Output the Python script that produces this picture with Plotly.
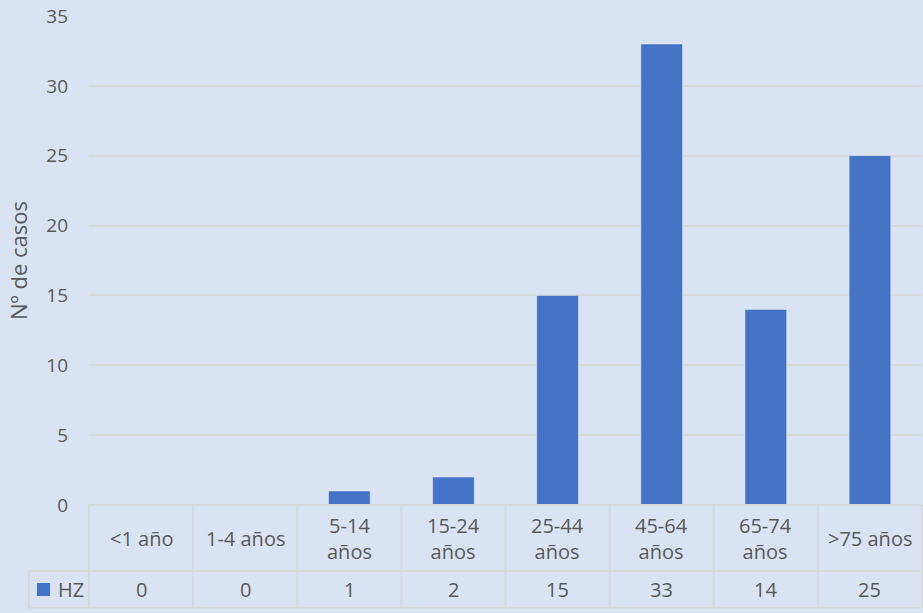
import plotly.graph_objects as go

categories = ["<1 año", "1-4 años", "5-14 años", "15-24 años", "25-44 años", "45-64 años", "65-74 años", ">75 años"]
category_labels = ["<1 año", "1-4 años", "5-14<br>años", "15-24<br>años", "25-44<br>años", "45-64<br>años", "65-74<br>años", ">75 años"]
series_name = "HZ"
hz_values = [0, 0, 1, 2, 15, 33, 14, 25]
y_ticks = [0, 5, 10, 15, 20, 25, 30, 35]

BG = "#DAE3F3"
BAR = "#4472C4"
GRID = "#D6D9DE"
TXT = "#595959"
FONT = "Open Sans"
FS = 20

W, H = 923, 613
ML, MR, MT, MB = 89, 1, 16, 108
plot_h = H - MT - MB
plot_w = W - ML - MR
n = len(categories)

def py(px):
    # pixel y (from top) -> paper y
    return (H - MB - px) / plot_h

row1_bottom = py(571)
row2_bottom = py(608)
key_left = -60 / plot_w

fig = go.Figure()
fig.add_trace(go.Bar(x=list(range(n)), y=hz_values, marker_color=BAR, name=series_name,
                     showlegend=False))

shapes = []
line = dict(color=GRID, width=2)
shapes.append(dict(type="line", xref="paper", yref="paper", x0=0, x1=1, y0=0, y1=0, line=line))
shapes.append(dict(type="line", xref="paper", yref="paper", x0=key_left, x1=1, y0=row1_bottom, y1=row1_bottom, line=line))
shapes.append(dict(type="line", xref="paper", yref="paper", x0=key_left, x1=1, y0=row2_bottom, y1=row2_bottom, line=line))
for k in range(n + 1):
    shapes.append(dict(type="line", xref="paper", yref="paper", x0=k / n, x1=k / n, y0=0, y1=row2_bottom, line=line))
shapes.append(dict(type="line", xref="paper", yref="paper", x0=key_left, x1=key_left, y0=row1_bottom, y1=row2_bottom, line=line))
sq_l = -52 / plot_w
sq_r = -39 / plot_w
sq_mid = (row1_bottom + row2_bottom) / 2
sq_half = 6.5 / plot_h
shapes.append(dict(type="rect", xref="paper", yref="paper", x0=sq_l, x1=sq_r,
                   y0=sq_mid - sq_half, y1=sq_mid + sq_half, fillcolor=BAR, line=dict(width=0)))

annotations = []
row1_mid = (0 + row1_bottom) / 2
for i, lab in enumerate(category_labels):
    annotations.append(dict(x=i, y=row1_mid, xref="x", yref="paper", text=lab, showarrow=False,
                            font=dict(size=FS, color=TXT, family=FONT), xanchor="center", yanchor="middle"))
    annotations.append(dict(x=i, y=sq_mid, xref="x", yref="paper", text=str(hz_values[i]), showarrow=False,
                            font=dict(size=FS, color=TXT, family=FONT), xanchor="center", yanchor="middle"))
annotations.append(dict(x=-33 / plot_w, y=sq_mid, xref="paper", yref="paper", text=series_name, showarrow=False,
                        font=dict(size=FS, color=TXT, family=FONT), xanchor="left", yanchor="middle"))

fig.update_layout(
    width=W, height=H,
    margin=dict(l=ML, r=MR, t=MT, b=MB, autoexpand=False),
    paper_bgcolor=BG, plot_bgcolor=BG,
    bargap=0.6,
    shapes=shapes, annotations=annotations,
    font=dict(family=FONT, color=TXT, size=FS),
    xaxis=dict(range=[-0.5, n - 0.5], showticklabels=False, showgrid=False, zeroline=False,
               showline=False, fixedrange=True),
    yaxis=dict(range=[0, 35], tickvals=y_ticks, showgrid=True, gridcolor=GRID, gridwidth=2,
               zeroline=False, showline=False, ticklabelstandoff=20, automargin=False,
               tickfont=dict(size=19, color=TXT, family=FONT),
               title=dict(text="Nº de casos", font=dict(size=22, color=TXT, family=FONT), standoff=12)),
)

fig.write_html("out.html", config={"displayModeBar": False},
               post_script="document.body.style.margin='0';document.body.style.overflow='hidden';")
